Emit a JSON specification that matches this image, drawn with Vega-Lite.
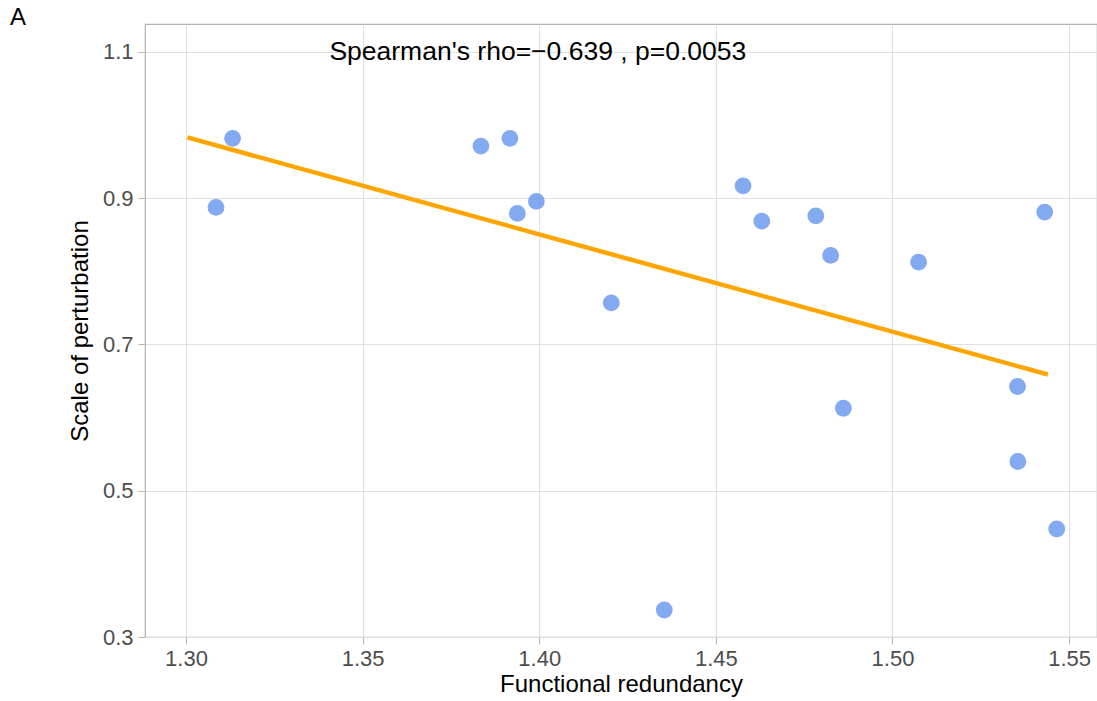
{
  "$schema": "https://vega.github.io/schema/vega-lite/v6.json",
  "autosize": "none",
  "width": 952,
  "height": 613,
  "padding": {"left": 145, "top": 24, "right": 0, "bottom": 64},
  "background": "white",
  "config": {
    "font": "Liberation Sans",
    "view": {"stroke": "#b3b3b3", "strokeWidth": 1.2},
    "axis": {
      "gridColor": "#e0e0e0",
      "gridWidth": 1,
      "domain": false,
      "tickColor": "#b3b3b3",
      "tickSize": 7,
      "labelColor": "#4d4d4d",
      "labelFont": "Liberation Sans",
      "labelFontSize": 22,
      "titleFont": "Liberation Sans",
      "titleFontSize": 24,
      "titleFontWeight": "normal",
      "titleColor": "black"
    }
  },
  "title": {
    "text": "A",
    "anchor": "start",
    "frame": "group",
    "dx": -135,
    "offset": -6,
    "fontSize": 24,
    "fontWeight": "normal",
    "font": "Liberation Sans",
    "color": "black"
  },
  "datasets": {
    "points": [
      {"redundancy": 1.3132, "perturbation": 0.9816},
      {"redundancy": 1.3085, "perturbation": 0.8872},
      {"redundancy": 1.3835, "perturbation": 0.9710},
      {"redundancy": 1.3917, "perturbation": 0.9816},
      {"redundancy": 1.3938, "perturbation": 0.8790},
      {"redundancy": 1.3992, "perturbation": 0.8954},
      {"redundancy": 1.4204, "perturbation": 0.7567},
      {"redundancy": 1.4354, "perturbation": 0.3369},
      {"redundancy": 1.4577, "perturbation": 0.9167},
      {"redundancy": 1.4630, "perturbation": 0.8685},
      {"redundancy": 1.4783, "perturbation": 0.8757},
      {"redundancy": 1.4825, "perturbation": 0.8216},
      {"redundancy": 1.4861, "perturbation": 0.6127},
      {"redundancy": 1.5074, "perturbation": 0.8124},
      {"redundancy": 1.5354, "perturbation": 0.6424},
      {"redundancy": 1.5355, "perturbation": 0.5399},
      {"redundancy": 1.5431, "perturbation": 0.8808},
      {"redundancy": 1.5465, "perturbation": 0.4477}
    ],
    "fit": [
      {"redundancy": 1.3004, "perturbation": 0.9829},
      {"redundancy": 1.5440, "perturbation": 0.6588}
    ],
    "label": [
      {"redundancy": 1.3996, "perturbation": 1.1, "text": "Spearman's rho=−0.639 , p=0.0053"}
    ]
  },
  "encoding": {
    "x": {
      "field": "redundancy",
      "type": "quantitative",
      "title": "Functional redundancy",
      "scale": {"domain": [1.2884, 1.5579], "nice": false, "zero": false},
      "axis": {"values": [1.3, 1.35, 1.4, 1.45, 1.5, 1.55], "format": ".2f", "labelPadding": 4, "titlePadding": 3}
    },
    "y": {
      "field": "perturbation",
      "type": "quantitative",
      "title": "Scale of perturbation",
      "scale": {"domain": [0.3, 1.1379], "nice": false, "zero": false},
      "axis": {"values": [0.3, 0.5, 0.7, 0.9, 1.1], "format": ".1f", "labelPadding": 5, "titlePadding": 10}
    }
  },
  "layer": [
    {
      "data": {"name": "points"},
      "mark": {"type": "circle", "size": 283, "color": "#6495ED", "opacity": 0.8}
    },
    {
      "data": {"name": "fit"},
      "mark": {"type": "line", "color": "#FFA500", "strokeWidth": 4.5}
    },
    {
      "data": {"name": "label"},
      "mark": {"type": "text", "fontSize": 26.5, "color": "black", "font": "Liberation Sans"},
      "encoding": {"text": {"field": "text"}}
    }
  ]
}
